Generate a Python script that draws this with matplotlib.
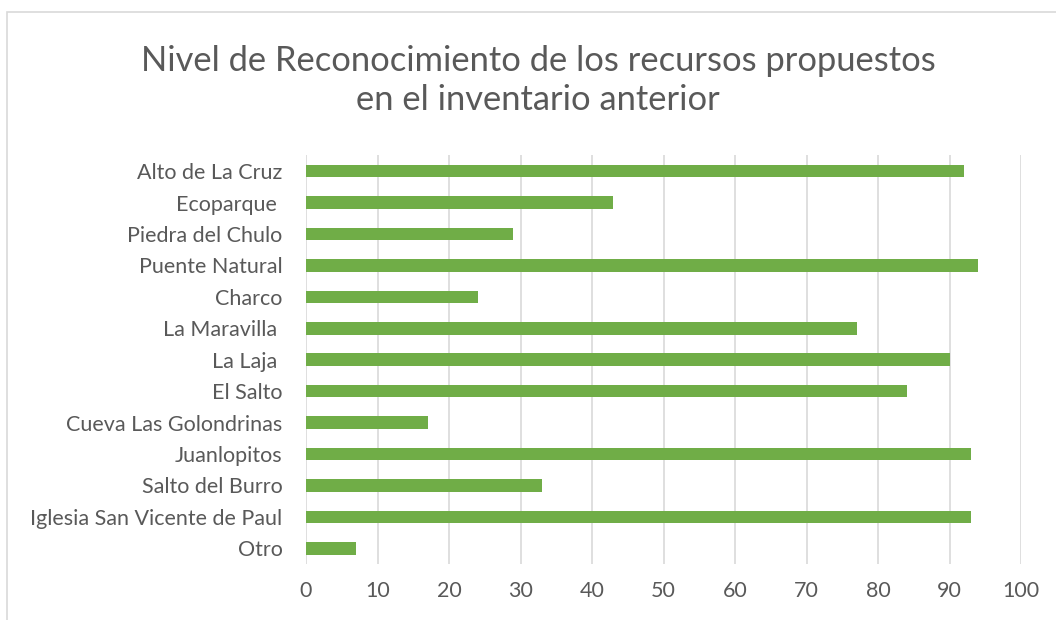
import matplotlib.pyplot as plt
from matplotlib.patches import Rectangle

# data (top to bottom)
categories = ['Alto de La Cruz', 'Ecoparque ', 'Piedra del Chulo', 'Puente Natural',
              'Charco', 'La Maravilla ', 'La Laja ', 'El Salto',
              'Cueva Las Golondrinas', 'Juanlopitos', 'Salto del Burro',
              'Iglesia San Vicente de Paul', 'Otro']
values = [92, 43, 29, 94, 24, 77, 90, 84, 17, 93, 33, 93, 7]
xticks = [0, 10, 20, 30, 40, 50, 60, 70, 80, 90, 100]

text_color = '#595959'
bar_color = '#70AD47'
grid_color = '#D9D9D9'

plt.rcParams['font.family'] = ['Lato', 'DejaVu Sans']

fig = plt.figure(figsize=(10.56, 6.2), dpi=100)
ax = fig.add_axes([0.2898, 0.0903, 0.6771, 0.6589])

# chart area border (cut by the image edge at right and bottom)
fig.patches.append(Rectangle((7 / 1056, -0.1), 1.2, 1 - 12 / 620 + 0.1,
                             transform=fig.transFigure, fill=False,
                             edgecolor=grid_color, linewidth=1.2))

ypos = list(range(len(categories)))
ax.barh(ypos, values, height=0.4, color=bar_color, zorder=3)

ax.set_ylim(len(categories) - 0.5, -0.5)
ax.set_xlim(0, 100)
ax.set_yticks(ypos)
ax.set_yticklabels(categories)
ax.set_xticks(xticks)

ax.grid(axis='x', color=grid_color, linewidth=1.2, zorder=0)
for s in ax.spines.values():
    s.set_visible(False)
ax.tick_params(axis='both', length=0, labelsize=15.5, colors=text_color)
ax.tick_params(axis='y', pad=17)
ax.tick_params(axis='x', pad=12)

fig.text(538 / 1056, 1 - 80.5 / 620,
         'Nivel de Reconocimiento de los recursos propuestos\nen el inventario anterior',
         ha='center', va='center', fontsize=24.8, color=text_color, linespacing=1.3)

fig.savefig('out.png', dpi=100)
